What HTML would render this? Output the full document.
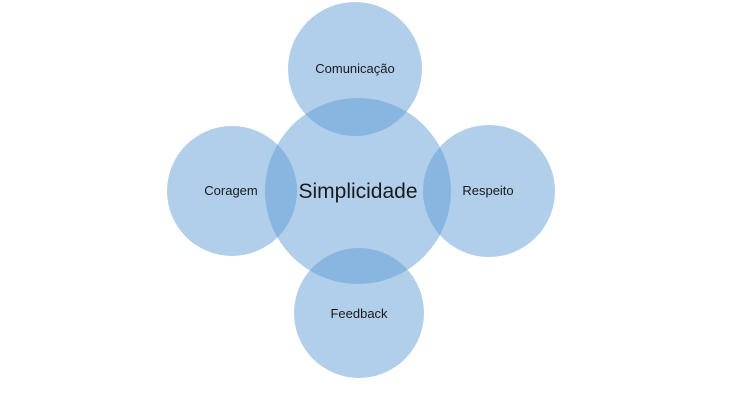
<!DOCTYPE html>
<html><head><meta charset="utf-8"><style>
html,body{margin:0;padding:0;background:#fff;width:738px;height:412px;overflow:hidden}
svg text{font-family:"Liberation Sans",sans-serif;fill:#1a1a1a}
</style></head><body>
<svg width="738" height="412" viewBox="0 0 738 412">
<g fill="rgb(91,155,213)" fill-opacity="0.48">
<circle cx="355" cy="69" r="67"/>
<circle cx="358" cy="191" r="93"/>
<circle cx="232" cy="191" r="65"/>
<circle cx="489" cy="191" r="66"/>
<circle cx="359" cy="313" r="65"/>
</g>
<text x="355" y="73" font-size="13" text-anchor="middle">Comunicação</text>
<text x="358" y="198" font-size="21" text-anchor="middle">Simplicidade</text>
<text x="231" y="195" font-size="13" text-anchor="middle">Coragem</text>
<text x="488" y="195" font-size="13" text-anchor="middle">Respeito</text>
<text x="359" y="318" font-size="13" text-anchor="middle">Feedback</text>
</svg>
</body></html>
